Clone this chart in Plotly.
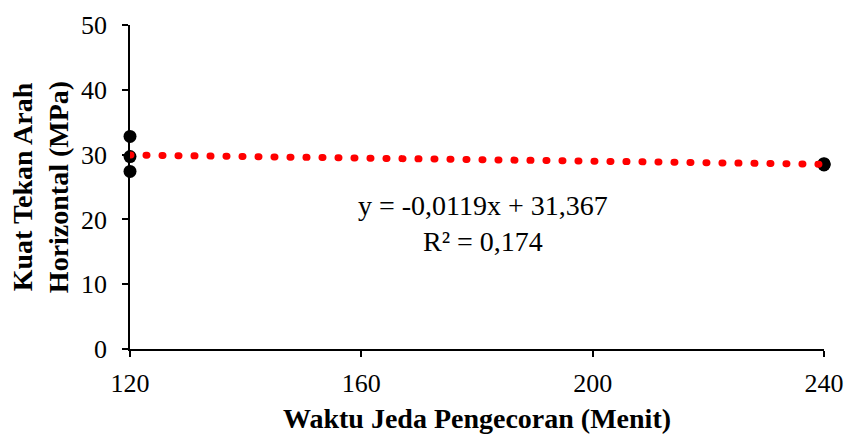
import plotly.graph_objects as go

x_vals = [120, 120, 120, 240, 240, 240]
y_vals = [32.8, 29.7, 27.4, 28.4, 28.6, 28.5]
slope = -0.0119
intercept = 31.367
x_ticks = [120, 160, 200, 240]
y_ticks = [0, 10, 20, 30, 40, 50]

font_family = "Liberation Serif, Times New Roman, serif"

x_line = [min(x_vals), max(x_vals)]
y_line = [slope * v + intercept for v in x_line]

fig = go.Figure()
fig.add_trace(go.Scatter(x=x_vals, y=y_vals, mode="markers",
                         marker=dict(color="black", size=13), cliponaxis=False,
                         showlegend=False))
fig.add_trace(go.Scatter(x=x_line, y=y_line, mode="lines",
                         line=dict(color="red", width=7, dash="1px,15px"), cliponaxis=False,
                         showlegend=False))

fig.add_annotation(x=0.508, y=0.386, xref="paper", yref="paper",
                   text="y = -0,0119x + 31,367<br>R² = 0,174", showarrow=False,
                   font=dict(family=font_family, size=28, color="black"), align="center")

fig.update_layout(
    width=848, height=434,
    margin=dict(l=130, r=24, t=25, b=85),
    paper_bgcolor="white", plot_bgcolor="white",
    font=dict(family=font_family, size=26, color="black"),
    xaxis=dict(range=[120, 240], tickvals=x_ticks, showgrid=False, zeroline=False,
               showline=True, linecolor="black", linewidth=1.5, automargin=False,
               ticks="outside", ticklen=6, tickcolor="black", tickwidth=1.5,
               tickfont=dict(size=26), ticklabelstandoff=4,
               title=dict(text="<b>Waktu Jeda Pengecoran (Menit)</b>", font=dict(size=28), standoff=15)),
    yaxis=dict(range=[0, 50], tickvals=y_ticks, showgrid=False, zeroline=False,
               showline=True, linecolor="black", linewidth=1.5, automargin=False,
               ticks="outside", ticklen=6, tickcolor="black", tickwidth=1.5,
               tickfont=dict(size=26), ticklabelstandoff=10,
               title=dict(text="<b>Kuat Tekan Arah<br>Horizontal (MPa)</b>", font=dict(size=28), standoff=4)),
)

post = """
document.body.style.margin='0';
document.querySelectorAll('.scatterlayer .js-line').forEach(function(p){p.style.strokeLinecap='round';});
"""
fig.write_html("out.html", post_script=post, config={"displayModeBar": False})
